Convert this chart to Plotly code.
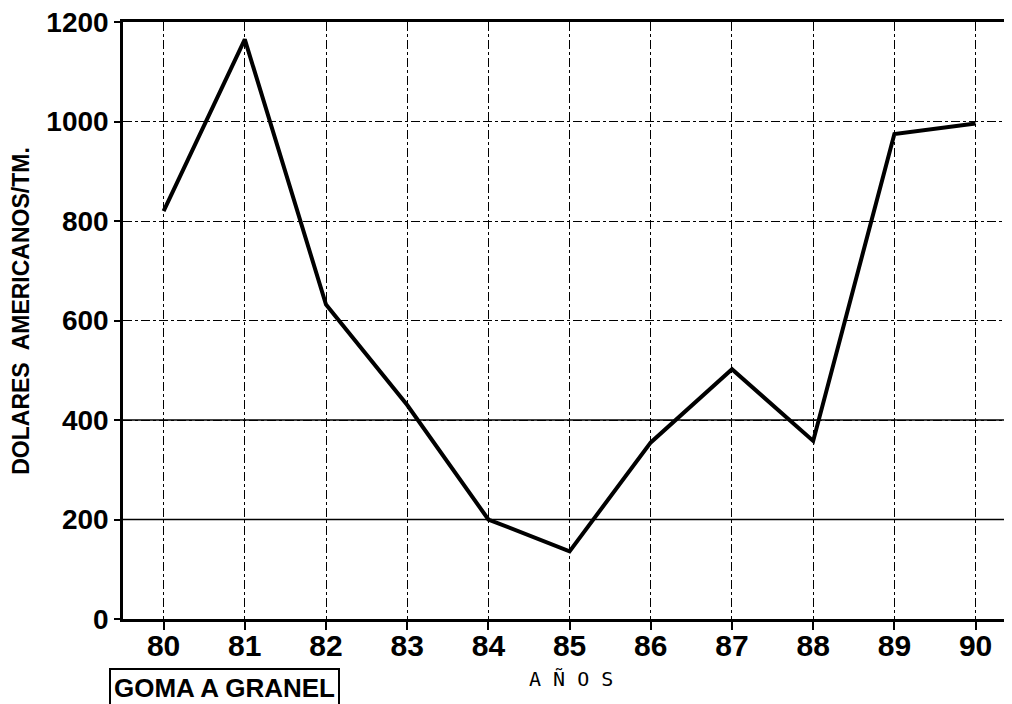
import plotly.graph_objects as go

years = [80, 81, 82, 83, 84, 85, 86, 87, 88, 89, 90]
prices = [820, 1165, 632, 430, 200, 136, 355, 502, 358, 975, 996]
y_ticks = [0, 200, 400, 600, 800, 1000, 1200]
solid_grid = [200, 400]

font_family = "Liberation Sans, Arial, sans-serif"

fig = go.Figure(
    go.Scatter(
        x=years,
        y=prices,
        mode="lines",
        line=dict(color="black", width=4),
        showlegend=False,
    )
)

# the two lowest horizontal gridlines are drawn solid in the original
for v in solid_grid:
    fig.add_shape(
        type="line", xref="paper", x0=0, x1=1, yref="y", y0=v, y1=v,
        line=dict(color="black", width=1.5), layer="below",
    )

fig.update_xaxes(
    range=[79.5, 90.35],
    tickvals=years,
    ticktext=[f"<b>{y}</b>" for y in years],
    tickfont=dict(size=30, color="black", family=font_family),
    ticks="outside",
    ticklen=8,
    tickwidth=2,
    tickcolor="black",
    ticklabelstandoff=-10,
    ticklabeloverflow="allow",
    showline=True,
    linecolor="black",
    linewidth=2.5,
    mirror=True,
    showgrid=True,
    gridcolor="black",
    gridwidth=1,
    griddash="dashdot",
    zeroline=False,
    automargin=False,
)

fig.update_yaxes(
    range=[0, 1200],
    tickvals=y_ticks,
    ticktext=[f"<b>{v}</b>" for v in y_ticks],
    tickfont=dict(size=28, color="black", family=font_family),
    ticks="outside",
    ticklen=6,
    tickwidth=2,
    tickcolor="black",
    ticklabeloverflow="allow",
    showline=True,
    linecolor="black",
    linewidth=2.5,
    showgrid=True,
    gridcolor="black",
    gridwidth=1,
    griddash="dashdot",
    zeroline=False,
    automargin=False,
)

# axis titles placed as annotations to match the original positions
fig.add_annotation(
    text="<b>DOLARES  AMERICANOS/TM.</b>",
    xref="paper", yref="paper",
    x=-0.116, y=0.516,
    xanchor="center", yanchor="middle",
    textangle=-90,
    showarrow=False,
    font=dict(size=23, color="black", family=font_family),
)
fig.add_annotation(
    text="A Ñ O S",
    xref="paper", yref="paper",
    x=0.508, y=-0.1,
    xanchor="center", yanchor="middle",
    showarrow=False,
    font=dict(size=20, color="black", family="DejaVu Sans Mono, monospace"),
)

fig.add_annotation(
    text="<b>GOMA A GRANEL</b>",
    xref="paper", yref="paper",
    x=-0.016, y=-0.082,
    xanchor="left", yanchor="top",
    showarrow=False,
    font=dict(size=26, color="black", family=font_family),
    bordercolor="black",
    borderwidth=2,
    borderpad=3,
    bgcolor="white",
)

# the page body adds an 8px offset, so the figure is sized to the visible area
fig.update_layout(
    width=1004,
    height=696,
    margin=dict(l=115, r=8, t=14, b=85),
    plot_bgcolor="white",
    paper_bgcolor="white",
    font=dict(family=font_family, color="black"),
)

fig.write_html("out.html")
